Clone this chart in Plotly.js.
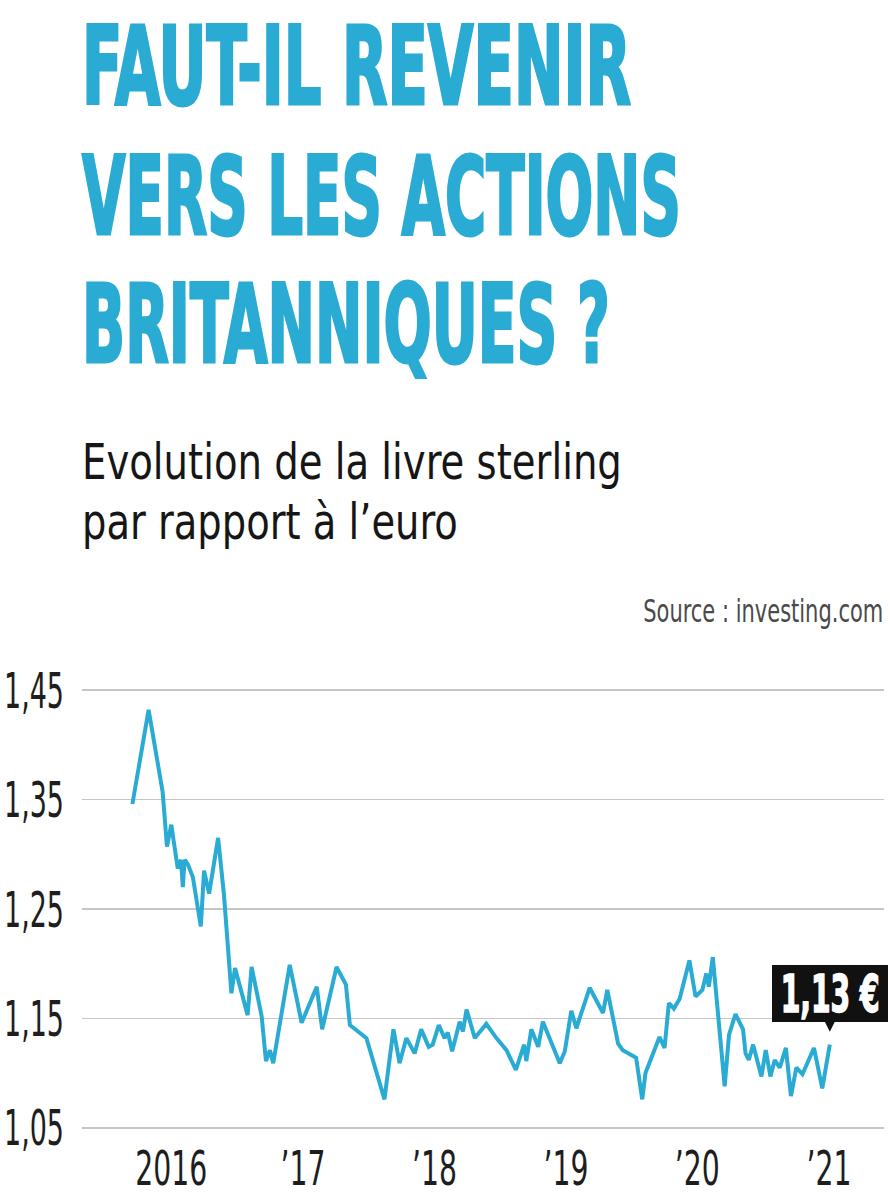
<!DOCTYPE html>
<html>
<head>
<meta charset="utf-8">
<script src="https://cdn.plot.ly/plotly-3.0.1.min.js"></script>
<style>
  html, body { margin: 0; padding: 0; background: #ffffff; }
  #chart { width: 890px; height: 1200px; }
</style>
</head>
<body>
<div id="chart"></div>
<script>
// ---------- DATA ----------
const dates = [
  '2015-09-15','2015-10-30','2015-12-08','2015-12-20','2016-01-01','2016-01-19','2016-01-28','2016-02-02',
  '2016-02-07','2016-02-16','2016-03-01','2016-03-23','2016-04-01','2016-04-15','2016-05-10','2016-05-26',
  '2016-06-16','2016-06-26','2016-07-31','2016-08-11','2016-09-08','2016-09-20','2016-10-01','2016-10-10',
  '2016-11-25','2016-12-28','2017-02-08','2017-02-23','2017-04-04','2017-04-30','2017-05-11','2017-06-26',
  '2017-08-15','2017-09-09','2017-09-26','2017-10-15','2017-11-07','2017-11-25','2017-12-16','2017-12-27',
  '2018-01-13','2018-01-29','2018-02-07','2018-02-19','2018-03-12','2018-03-21','2018-03-31','2018-04-23',
  '2018-05-25','2018-06-22','2018-07-20','2018-08-15','2018-09-07','2018-09-13','2018-09-27','2018-10-16',
  '2018-10-29','2018-12-15','2018-12-29','2019-01-16','2019-01-30','2019-03-08','2019-04-14','2019-04-26',
  '2019-05-26','2019-06-08','2019-07-15','2019-08-01','2019-08-10','2019-09-18','2019-10-02','2019-10-14',
  '2019-10-28','2019-11-13','2019-12-10','2019-12-27','2020-01-15','2020-01-26','2020-02-02','2020-02-13',
  '2020-03-17','2020-03-29','2020-04-16','2020-05-07','2020-05-14','2020-05-23','2020-06-04','2020-06-27',
  '2020-07-09','2020-07-22','2020-08-03','2020-08-17','2020-09-03','2020-09-17','2020-10-02','2020-10-19',
  '2020-11-20','2020-12-13','2021-01-03'
];
const rates = [
  1.346,1.432,1.357,1.307,1.327,1.287,1.295,1.270,
  1.295,1.291,1.279,1.234,1.285,1.264,1.315,1.264,
  1.173,1.196,1.153,1.197,1.152,1.111,1.121,1.109,
  1.199,1.146,1.179,1.140,1.197,1.181,1.144,1.132,
  1.076,1.140,1.109,1.132,1.118,1.140,1.124,1.126,
  1.144,1.132,1.137,1.120,1.147,1.138,1.158,1.132,
  1.145,1.132,1.121,1.103,1.126,1.111,1.140,1.124,
  1.147,1.109,1.120,1.157,1.141,1.178,1.155,1.176,
  1.127,1.121,1.114,1.076,1.100,1.133,1.123,1.164,
  1.159,1.168,1.203,1.170,1.176,1.191,1.179,1.206,
  1.088,1.135,1.154,1.140,1.118,1.112,1.126,1.097,
  1.121,1.097,1.112,1.105,1.123,1.079,1.105,1.099,
  1.123,1.086,1.126
];
const yearTicks  = ['2016-01-01','2017-01-01','2018-01-01','2019-01-01','2020-01-01','2021-01-01'];
const yearLabels = ['2016','\u201917','\u201918','\u201919','\u201920','\u201921'];
const rateTicks  = [1.05, 1.15, 1.25, 1.35, 1.45];
const rateLabels = ['1,05','1,15','1,25','1,35','1,45'];
const titleLines = ['FAUT-IL REVENIR', 'VERS LES ACTIONS', 'BRITANNIQUES ?'];
const subtitleLines = ['Evolution de la livre sterling', 'par rapport \u00e0 l\u2019euro'];
const sourceText = 'Source : investing.com';

// ---------- STYLE ----------
const BLUE = '#2aabd3';
const NARROW = 'DejaVu Sans Condensed, DejaVu Sans, Liberation Sans, Arial, sans-serif';

const lastDate = dates[dates.length - 1];
const lastRate = rates[rates.length - 1];
const lastLabel = lastRate.toFixed(2).replace('.', ',') + ' \u20ac';

const squeezeSpecs = [];
const annotations = [];

const titleY = [2.4050, 2.1109, 1.8235];
const titleW = [549, 599, 528];
titleLines.forEach((t, i) => {
  squeezeSpecs.push({idx: annotations.length, width: titleW[i], pivot: 'start', stroke: BLUE, sw: 3});
  annotations.push({
    text: t, xref: 'paper', yref: 'paper', x: 0.0, y: titleY[i],
    xanchor: 'left', yanchor: 'middle', align: 'left', showarrow: false,
    borderpad: 0, borderwidth: 0,
    font: {family: NARROW, size: 108, color: BLUE, weight: 'bold'}
  });
});

const subY = [1.5102, 1.3744];
const subW = [540, 376];
subtitleLines.forEach((t, i) => {
  squeezeSpecs.push({idx: annotations.length, width: subW[i], pivot: 'start'});
  annotations.push({
    text: t, xref: 'paper', yref: 'paper', x: 0.0, y: subY[i],
    xanchor: 'left', yanchor: 'middle', align: 'left', showarrow: false,
    borderpad: 0, borderwidth: 0,
    font: {family: NARROW, size: 49, color: '#161616'}
  });
});

squeezeSpecs.push({idx: annotations.length, width: 240, pivot: 'end'});
annotations.push({
  text: sourceText, xref: 'paper', yref: 'paper', x: 0.9985, y: 1.1731,
  xanchor: 'right', yanchor: 'middle', align: 'right', showarrow: false,
  borderpad: 0, borderwidth: 0,
  font: {family: NARROW, size: 32, color: '#4a4a4a'}
});

// black callout box with pointer to the last value
annotations.push({
  text: ' ', x: lastDate, y: lastRate, xref: 'x', yref: 'y',
  showarrow: true, ax: 0, ay: -51, axref: 'pixel', ayref: 'pixel',
  width: 116, height: 57, borderpad: 0, borderwidth: 0, bgcolor: '#111111',
  arrowhead: 2, arrowsize: 1.4, arrowwidth: 2, arrowcolor: '#111111', standoff: 13,
  font: {size: 10, color: '#111111'}
});
squeezeSpecs.push({idx: annotations.length, width: 99, pivot: 'middle', stroke: '#ffffff', sw: 1.5});
annotations.push({
  text: lastLabel, x: lastDate, y: lastRate, xref: 'x', yref: 'y',
  showarrow: false, xanchor: 'center', yanchor: 'middle', yshift: 51,
  borderpad: 0, borderwidth: 0,
  font: {family: NARROW, size: 52, color: '#ffffff', weight: 'bold'}
});

const trace = {
  x: dates, y: rates, type: 'scatter', mode: 'lines',
  line: {color: BLUE, width: 4, shape: 'linear'},
  hoverinfo: 'skip'
};

const layout = {
  width: 890, height: 1200,
  margin: {l: 82, r: 6, t: 688, b: 70, pad: 0},
  paper_bgcolor: '#ffffff', plot_bgcolor: '#ffffff',
  showlegend: false,
  xaxis: {
    type: 'date', range: ['2015-04-28', '2021-06-02 12:00'],
    tickmode: 'array', tickvals: yearTicks, ticktext: yearLabels,
    showgrid: false, zeroline: false, showline: false, ticks: '',
    ticklabelstandoff: 6,
    tickfont: {family: NARROW, size: 48, color: '#1e1e1e'},
    fixedrange: true
  },
  yaxis: {
    range: [1.048, 1.452],
    tickmode: 'array', tickvals: rateTicks, ticktext: rateLabels,
    showgrid: true, gridcolor: '#c6c6c6', gridwidth: 1.6,
    zeroline: false, showline: false, ticks: '',
    ticklabelstandoff: 17,
    tickfont: {family: NARROW, size: 50, color: '#1e1e1e'},
    fixedrange: true
  },
  annotations: annotations
};

function squeeze(el, sx, pivot) {
  const b = el.getBBox();
  const px = pivot === 'start' ? b.x : (pivot === 'end' ? b.x + b.width : b.x + b.width / 2);
  const t = el.getAttribute('transform') || '';
  el.setAttribute('transform', t + ' translate(' + px + ',0) scale(' + sx + ',1) translate(' + (-px) + ',0)');
}

const gd = document.getElementById('chart');
Plotly.newPlot(gd, [trace], layout, {displayModeBar: false, staticPlot: true}).then(() => {
  // condensed look: compress text horizontally to the reference widths
  gd.querySelectorAll('g.annotation').forEach(g => {
    const idx = +g.getAttribute('data-index');
    const spec = squeezeSpecs.find(s => s.idx === idx);
    if (!spec) return;
    const el = g.querySelector('text.annotation-text');
    if (!el) return;
    const w = el.getBBox().width;
    if (w > 0) squeeze(el, spec.width / w, spec.pivot);
    if (spec.stroke) {
      el.style.stroke = spec.stroke;
      el.style.strokeWidth = spec.sw + 'px';
      el.style.strokeLinejoin = 'miter';
    }
  });
  const yt = Array.from(gd.querySelectorAll('.ytick text'));
  if (yt.length) {
    const ref = yt.find(e => e.textContent === '1,45') || yt[0];
    const sx = 60 / ref.getBBox().width;
    yt.forEach(e => squeeze(e, sx, 'end'));
  }
  const xt = Array.from(gd.querySelectorAll('.xtick text'));
  if (xt.length) {
    const ref = xt.find(e => e.textContent === '2016') || xt[0];
    const sx = 72 / ref.getBBox().width;
    xt.forEach(e => squeeze(e, sx, 'middle'));
  }
});
</script>
</body>
</html>
